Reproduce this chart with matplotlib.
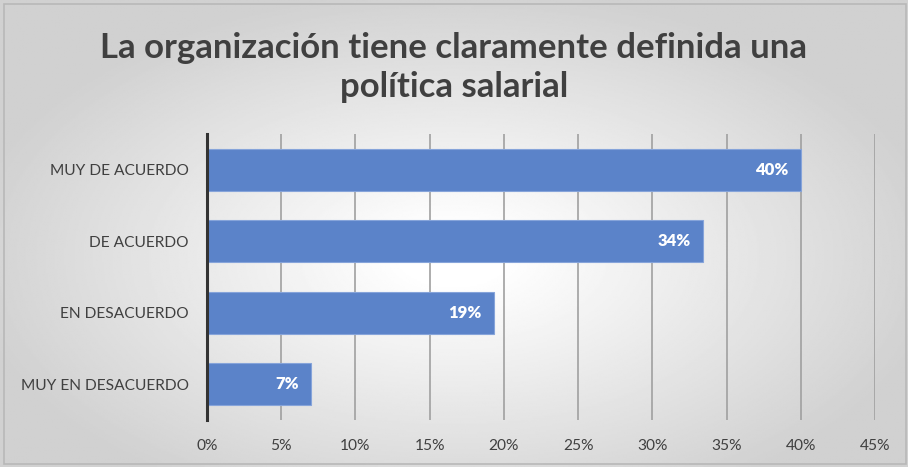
import numpy as np
import matplotlib
matplotlib.use('Agg')
import matplotlib.pyplot as plt
from matplotlib.patches import Rectangle

categories = ['MUY DE ACUERDO', 'DE ACUERDO', 'EN DESACUERDO', 'MUY EN DESACUERDO']
values = [40.0, 33.4, 19.3, 7.0]
value_labels = ['40%', '34%', '19%', '7%']
ticks = [0, 5, 10, 15, 20, 25, 30, 35, 40, 45]
tick_labels = ['{}%'.format(t) for t in ticks]
title = 'La organización tiene claramente definida una\npolítica salarial'

plt.rcParams['font.family'] = ['Lato', 'DejaVu Sans']

fig = plt.figure(figsize=(9.08, 4.67), dpi=100)

# radial gray background
bg = fig.add_axes([0, 0, 1, 1], zorder=-10)
yy, xx = np.mgrid[0:1:300j, 0:1:600j]
r = np.sqrt(((xx - 0.5) / 0.75) ** 2 + ((yy - 0.45) / 0.8) ** 2)
shade = np.clip(1.02 - 0.28 * r, 0.82, 1.0)
bg.imshow(shade, cmap='gray', vmin=0, vmax=1, extent=[0, 1, 0, 1],
          aspect='auto', origin='lower')
bg.add_patch(Rectangle((0.004, 0.006), 0.994, 0.985, fill=False,
                       edgecolor='#b8b8b8', lw=1.2, transform=bg.transAxes))
bg.set_xlim(0, 1)
bg.set_ylim(0, 1)
bg.axis('off')

ax = fig.add_axes([0.228, 0.1006, 0.7357, 0.6124])
ax.patch.set_alpha(0)
y = np.arange(len(categories))
ax.barh(y, values, height=0.59, color='#5b83c9', edgecolor='#86a4da', lw=0.8, zorder=3)
for yi, v, lab in zip(y, values, value_labels):
    ax.text(v - 0.8, yi, lab, ha='right', va='center', color='white',
            fontsize=12, fontweight='heavy', zorder=4)

ax.set_ylim(len(categories) - 0.5, -0.5)
ax.set_xlim(0, 45)
ax.set_yticks(y)
ax.set_yticklabels(categories, fontsize=11.2, color='#404040')
ax.set_xticks(ticks)
ax.set_xticklabels(tick_labels, fontsize=11.2, color='#404040')
ax.tick_params(axis='y', length=0, pad=13)
ax.tick_params(axis='x', length=0, pad=14)
ax.grid(axis='x', color='#a0a0a0', lw=1.2, zorder=0)
for s in ['top', 'right', 'bottom']:
    ax.spines[s].set_visible(False)
ax.spines['left'].set_color('#333333')
ax.spines['left'].set_linewidth(2.2)
ax.spines['left'].set_zorder(5)

fig.text(0.5, 0.855, title, ha='center', va='center', fontsize=25,
         fontweight='bold', color='#404040', linespacing=1.27)

fig.savefig('out.png', dpi=100)
